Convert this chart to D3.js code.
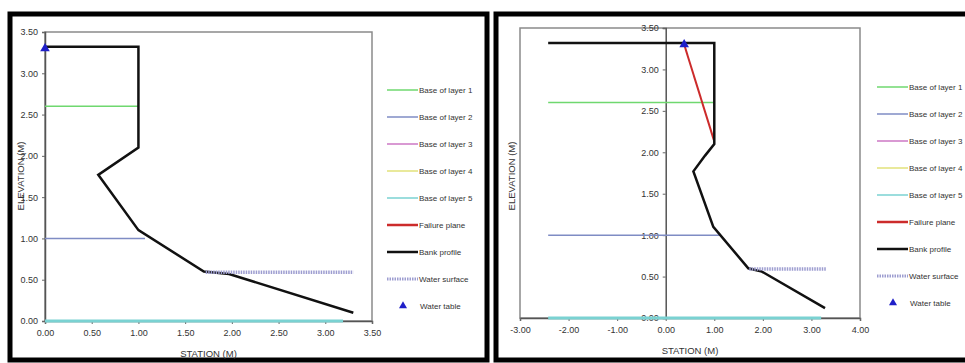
<!DOCTYPE html>
<html>
<head>
<meta charset="utf-8">
<script src="https://cdn.jsdelivr.net/npm/d3@7"></script>
<style>
  body { margin: 0; background: #fff; }
  svg { display: block; }
  text { font-family: "Liberation Sans", Arial, sans-serif; fill: #333; }
</style>
</head>
<body>
<svg id="chart" width="965" height="363"></svg>
<script>
// ---- data ----
var legendNames = ["Base of layer 1", "Base of layer 2", "Base of layer 3", "Base of layer 4",
                   "Base of layer 5", "Failure plane", "Bank profile", "Water surface", "Water table"];
var yTicks = [0, 0.5, 1, 1.5, 2, 2.5, 3, 3.5];

// left chart
var leftXTicks = [0, 0.5, 1, 1.5, 2, 2.5, 3, 3.5];
var leftProfileX = [0, 1.0, 1.0, 0.57, 1.0, 1.7, 1.97, 3.3];
var leftProfileY = [3.32, 3.32, 2.1, 1.77, 1.1, 0.6, 0.57, 0.1];
var leftLayer1 = [[0, 2.6], [1.0, 2.6]];
var leftLayer2 = [[0, 1.0], [1.07, 1.0]];
var leftLayer5 = [[0, 0], [3.19, 0]];
var leftWaterSurface = [[1.72, 0.59], [3.3, 0.59]];
var leftFailure = [];
var leftWaterTable = [0, 3.30];

// right chart
var rightXTicks = [-3, -2, -1, 0, 1, 2, 3, 4];
var rightProfileX = [-2.42, 1.0, 1.0, 0.81, 0.57, 0.98, 1.7, 1.98, 3.28];
var rightProfileY = [3.32, 3.32, 2.1, 1.96, 1.77, 1.1, 0.6, 0.56, 0.12];
var rightLayer1 = [[-2.42, 2.6], [1.0, 2.6]];
var rightLayer2 = [[-2.42, 1.0], [1.12, 1.0]];
var rightLayer5 = [[-2.42, 0], [3.2, 0]];
var rightWaterSurface = [[1.72, 0.59], [3.3, 0.59]];
var rightFailure = [[0.38, 3.30], [0.99, 2.15]];
var rightWaterTable = [0.38, 3.30];

// ---- styles ----
var colors = {
    "Base of layer 1": "#6fd86f",
    "Base of layer 2": "#7f8cc4",
    "Base of layer 3": "#cc77c4",
    "Base of layer 4": "#e2e27a",
    "Base of layer 5": "#7ad2d2",
    "Failure plane": "#cc2b2b",
    "Bank profile": "#111",
    "Water surface": "#9d9dd0",
    "Water table": "#1f1fc8"
};

var fmt = d => d.toFixed(2);   // keep a plain hyphen for negatives

var svg = d3.select("#chart");

// panel frames
svg.append("rect").attr("x", 10).attr("y", 14).attr("width", 477).attr("height", 346)
    .attr("fill", "none").attr("stroke", "#000").attr("stroke-width", 5);
svg.append("rect").attr("x", 496).attr("y", 14).attr("width", 480).attr("height", 346)
    .attr("fill", "none").attr("stroke", "#000").attr("stroke-width", 5);

function drawPanel(p) {
    var g = svg.append("g");
    var x = d3.scaleLinear().domain(p.xDomain).range([p.left, p.right]);
    var y = d3.scaleLinear().domain([0, 3.5]).range([p.bottom, p.top]);
    var line = d3.line().x(d => x(d[0])).y(d => y(d[1]));

    // plot box
    g.append("rect")
        .attr("x", p.left).attr("y", p.top)
        .attr("width", p.right - p.left).attr("height", p.bottom - p.top)
        .attr("fill", "none").attr("stroke", "#8a8a8a").attr("stroke-width", 1.5);

    // x axis
    var xa = g.append("g")
        .attr("transform", `translate(0,${y(0)})`)
        .call(d3.axisBottom(x).tickValues(p.xTicks).tickFormat(fmt).tickSize(3).tickPadding(6));
    xa.select(".domain").attr("stroke", "#555").attr("stroke-width", 1.5);
    xa.selectAll(".tick line").attr("stroke", "#666");
    xa.selectAll("text").style("font-size", "9px").attr("fill", "#333");

    // y axis
    var ya = g.append("g")
        .attr("transform", `translate(${x(p.yAxisAt)},0)`)
        .call(d3.axisLeft(y).tickValues(yTicks).tickFormat(fmt).tickSize(3).tickPadding(4));
    ya.select(".domain").attr("stroke", "#555").attr("stroke-width", 1.5);
    ya.selectAll(".tick line").attr("stroke", "#666");
    ya.selectAll("text").style("font-size", "9px").attr("fill", "#333");

    // axis titles
    g.append("text")
        .attr("x", (p.left + p.right) / 2 + p.xTitleShift).attr("y", p.bottom + 36)
        .style("text-anchor", "middle").style("font-size", "9.5px")
        .text("STATION (M)");
    g.append("text")
        .attr("transform", `translate(${p.yTitleX}, ${176}) rotate(-90)`)
        .style("text-anchor", "middle").style("font-size", "9.5px")
        .text("ELEVATION (M)");

    // layers
    g.append("path").datum(p.layer1).attr("d", line)
        .attr("stroke", colors["Base of layer 1"]).attr("stroke-width", 1.5).attr("fill", "none");
    g.append("path").datum(p.layer2).attr("d", line)
        .attr("stroke", colors["Base of layer 2"]).attr("stroke-width", 1.5).attr("fill", "none");
    g.append("path").datum(p.layer5).attr("d", line)
        .attr("stroke", colors["Base of layer 5"]).attr("stroke-width", 3).attr("fill", "none");

    // failure plane
    if (p.failure.length) {
        g.append("path").datum(p.failure).attr("d", line)
            .attr("stroke", colors["Failure plane"]).attr("stroke-width", 2).attr("fill", "none");
    }

    // bank profile
    var prof = p.profileX.map((v, i) => [v, p.profileY[i]]);
    g.append("path").datum(prof).attr("d", line)
        .attr("stroke", colors["Bank profile"]).attr("stroke-width", 2.5)
        .attr("stroke-linejoin", "miter").attr("fill", "none");

    // water surface
    g.append("path").datum(p.waterSurface).attr("d", line)
        .attr("stroke", colors["Water surface"]).attr("stroke-width", 3.5)
        .attr("stroke-dasharray", "1.5,1").attr("fill", "none");

    // water table
    g.append("path")
        .attr("d", d3.symbol(d3.symbolTriangle, 40))
        .attr("transform", `translate(${x(p.waterTable[0])},${y(p.waterTable[1])})`)
        .attr("fill", colors["Water table"]);

    // legend
    var leg = g.append("g").attr("transform", `translate(${p.legendX},${p.legendY})`);
    legendNames.forEach(function(name, i) {
        var row = leg.append("g").attr("transform", `translate(0,${i * p.legendStep})`);
        if (name === "Water table") {
            row.append("path")
                .attr("d", d3.symbol(d3.symbolTriangle, 28))
                .attr("transform", "translate(16,0)")
                .attr("fill", colors[name]);
            row.append("text").attr("x", 33).attr("y", 3)
                .style("font-size", "8px").text(name);
        } else {
            var w = (name === "Failure plane" || name === "Bank profile") ? 2.5 :
                    (name === "Water surface" ? 3 : 1.5);
            row.append("line").attr("x1", 0).attr("x2", 31).attr("y1", 0).attr("y2", 0)
                .attr("stroke", colors[name]).attr("stroke-width", w)
                .attr("stroke-dasharray", name === "Water surface" ? "1.5,1" : null);
            row.append("text").attr("x", 32).attr("y", 3)
                .style("font-size", "8px").text(name);
        }
    });
}

drawPanel({
    xDomain: [0, 3.5], left: 45, right: 372, top: 32, bottom: 321,
    xTicks: leftXTicks, yAxisAt: 0, xTitleShift: 0, yTitleX: 24,
    profileX: leftProfileX, profileY: leftProfileY,
    layer1: leftLayer1, layer2: leftLayer2, layer5: leftLayer5,
    waterSurface: leftWaterSurface, failure: leftFailure, waterTable: leftWaterTable,
    legendX: 387, legendY: 90, legendStep: 27
});

drawPanel({
    xDomain: [-3, 4], left: 520, right: 860, top: 28, bottom: 318,
    xTicks: rightXTicks, yAxisAt: 0, xTitleShift: 0, yTitleX: 515,
    profileX: rightProfileX, profileY: rightProfileY,
    layer1: rightLayer1, layer2: rightLayer2, layer5: rightLayer5,
    waterSurface: rightWaterSurface, failure: rightFailure, waterTable: rightWaterTable,
    legendX: 877, legendY: 87, legendStep: 27
});
</script>
</body>
</html>
